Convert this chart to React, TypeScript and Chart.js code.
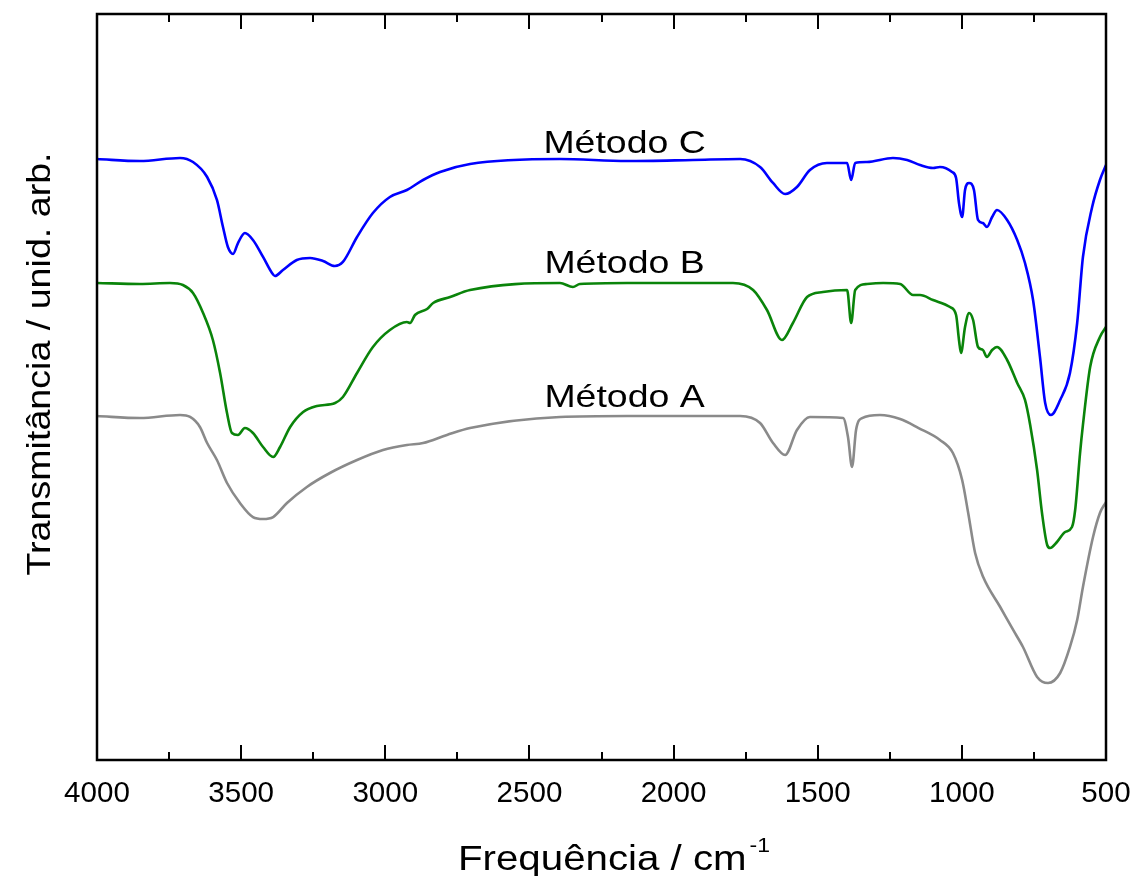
import React, { useEffect, useRef } from 'react';
import { Chart, registerables } from 'chart.js';

Chart.register(...registerables);

// ---------- data (wavenumber in cm-1, transmittance in arbitrary units) ----------
const wavenumbersC = [
  4000, 3851, 3712, 3667, 3618, 3584, 3563, 3546, 3528, 3511, 3487, 3459, 3424, 3393, 3383, 3355,
  3307, 3261, 3216, 3175, 3147, 3098, 3043, 2984, 2925, 2869, 2810, 2706, 2394, 2161, 1933, 1769,
  1700, 1655, 1613, 1572, 1527, 1468, 1398, 1384, 1370, 1329, 1239, 1190, 1145, 1100, 1076, 1034,
  1020, 1010, 999, 989, 975, 958, 944, 927, 913, 895, 878, 843, 808, 781, 753, 729, 711, 691, 659,
  625, 600, 580, 548, 521, 500,
];
const transmittanceC = [
  80.56, 80.29, 80.7, 80.16, 78.15, 75.07, 71.45, 68.77, 67.83, 69.3, 70.64, 69.71, 67.43, 65.28, 64.88, 65.68,
  67.02, 67.29, 66.89, 66.22, 66.76, 70.11, 73.32, 75.47, 76.41, 77.75, 78.82, 79.89, 80.56, 80.29, 80.43, 80.56,
  79.49, 77.35, 75.87, 76.81, 79.09, 80.03, 80.03, 77.75, 80.03, 80.16, 80.7, 80.43, 79.76, 79.36, 79.49, 78.82,
  78.02, 74.66, 72.79, 76.41, 77.35, 76.41, 72.39, 71.98, 71.45, 72.79, 73.73, 72.39, 69.71, 66.62, 61.66, 54.02, 47.86, 46.25, 48.26,
  51.88, 58.58, 67.43, 74.13, 77.75, 79.76,
];

const wavenumbersB = [
  4000, 3851, 3747, 3702, 3667, 3632, 3598, 3573, 3549, 3532, 3511, 3487, 3459, 3424, 3389, 3365,
  3330, 3285, 3237, 3174, 3147, 3098, 3043, 2984, 2925, 2914, 2897, 2855, 2834, 2775, 2706, 2394,
  2349, 2325, 2161, 1933, 1794, 1724, 1676, 1624, 1586, 1537, 1482, 1398, 1384, 1370, 1329, 1273,
  1214, 1169, 1145, 1100, 1041, 1020, 1010, 1003, 989, 975, 961, 944, 927, 913, 895, 878, 843, 808,
  781, 763, 739, 722, 704, 694, 670, 642, 618, 607, 590, 580, 555, 521, 500,
];
const transmittanceB = [
  63.94, 63.81, 63.94, 63.67, 62.6, 59.92, 56.3, 51.88, 46.51, 43.83, 43.57, 44.5, 43.83, 41.96, 40.62, 41.96,
  44.64, 46.65, 47.45, 47.86, 48.66, 51.88, 55.36, 57.64, 58.71, 58.58, 59.65, 60.46, 61.26, 62.06, 63.0, 63.94,
  63.4, 63.81, 63.94, 63.94, 63.94, 63.0, 60.32, 56.3, 58.58, 62.06, 62.73, 63.0, 58.58, 63.0, 63.81, 63.94,
  63.81, 62.33, 62.33, 61.66, 60.72, 59.65, 56.3, 54.56, 58.04, 59.92, 58.98, 55.36, 54.96, 54.02, 54.96, 55.36, 53.62, 50.54,
  48.26, 44.91, 38.87, 33.11, 28.82, 28.42, 29.22, 30.56, 31.23, 33.51, 41.15, 44.91, 52.68, 56.7, 58.04,
];

const wavenumbersA = [
  4000, 3851, 3712, 3677, 3643, 3618, 3584, 3549, 3504, 3459, 3424, 3389, 3341, 3272, 3192, 3098,
  3008, 2925, 2869, 2786, 2706, 2394, 2161, 1769, 1700, 1655, 1613, 1572, 1527, 1412, 1395, 1381,
  1367, 1346, 1284, 1214, 1150, 1076, 1031, 999, 978, 954, 926, 867, 822, 788, 739, 701, 659, 625,
  600, 580, 545, 521, 500,
];
const transmittanceA = [
  46.11, 45.84, 46.25, 45.98, 44.64, 42.49, 40.21, 37.13, 34.45, 32.57, 32.31, 32.57, 34.45, 36.6, 38.47, 40.21,
  41.55, 42.23, 42.49, 43.57, 44.5, 45.98, 46.11, 46.11, 45.17, 42.49, 40.88, 44.24, 45.98, 45.84, 43.3, 39.28,
  44.24, 45.84, 46.25, 45.71, 44.5, 42.9, 41.15, 37.53, 33.11, 27.75, 24.53, 20.51, 17.43, 15.15, 11.13, 10.32, 11.66, 15.15,
  18.77, 23.19, 29.89, 33.11, 34.58,
];

const seriesNames = ['Método C', 'Método B', 'Método A'];
const seriesColors = ['#0000ff', '#0a840a', '#8a8a8a'];
// label anchor (wavenumber, transmittance of text baseline)
const labelWavenumbers = [2170, 2170, 2170];
const labelTransmittance = [81.37, 65.28, 47.32];

const majorTicks = [4000, 3500, 3000, 2500, 2000, 1500, 1000, 500];
const tickLabels = ['4000', '3500', '3000', '2500', '2000', '1500', '1000', '500'];
const minorTicks = [3750, 3250, 2750, 2250, 1750, 1250, 750];

const xTitle = 'Frequência / cm';
const xTitleSup = '-1';
const yTitle = 'Transmitância / unid. arb.';

const FONT = '"Liberation Sans", Arial, Helvetica, sans-serif';

function toPoints(xs: number[], ys: number[]) {
  return xs.map((x, i) => ({ x, y: ys[i] }));
}

function stretchedText(
  ctx: CanvasRenderingContext2D,
  text: string,
  x: number,
  y: number,
  size: number,
  sx: number,
  align: CanvasTextAlign,
  rotate = 0,
) {
  ctx.save();
  ctx.translate(x, y);
  if (rotate) ctx.rotate(rotate);
  ctx.scale(sx, 1);
  ctx.font = `${size}px ${FONT}`;
  ctx.textAlign = align;
  ctx.textBaseline = 'alphabetic';
  ctx.fillStyle = '#000';
  ctx.fillText(text, 0, 0);
  ctx.restore();
}

const decorPlugin = {
  id: 'ftirDecor',
  afterDraw(chart: any) {
    const ctx: CanvasRenderingContext2D = chart.ctx;
    const { left, right, top, bottom } = chart.chartArea;
    const xs = chart.scales.x;
    const ys = chart.scales.y;
    ctx.save();
    // frame
    ctx.strokeStyle = '#000';
    ctx.lineWidth = 2.5;
    ctx.strokeRect(left, top, right - left, bottom - top);
    // ticks
    ctx.lineWidth = 2;
    ctx.beginPath();
    majorTicks.forEach((v) => {
      const px = Math.round(xs.getPixelForValue(v));
      ctx.moveTo(px, bottom);
      ctx.lineTo(px, bottom - 15);
      ctx.moveTo(px, top);
      ctx.lineTo(px, top + 15);
    });
    minorTicks.forEach((v) => {
      const px = Math.round(xs.getPixelForValue(v));
      ctx.moveTo(px, bottom);
      ctx.lineTo(px, bottom - 8);
      ctx.moveTo(px, top);
      ctx.lineTo(px, top + 8);
    });
    ctx.stroke();
    // tick labels
    majorTicks.forEach((v, i) => {
      const px = xs.getPixelForValue(v);
      stretchedText(ctx, tickLabels[i], px, bottom + 42, 29, 1.02, 'center');
    });
    // x title with superscript
    const sx = 1.15;
    ctx.font = `35px ${FONT}`;
    const mainW = ctx.measureText(xTitle).width * sx;
    ctx.font = `20px ${FONT}`;
    const supW = ctx.measureText(xTitleSup).width * sx;
    const totalW = mainW + supW + 3;
    const cx = 614;
    const startX = cx - totalW / 2;
    stretchedText(ctx, xTitle, startX, bottom + 110, 35, sx, 'left');
    stretchedText(ctx, xTitleSup, startX + mainW + 3, bottom + 92, 20, sx, 'left');
    // y title
    stretchedText(ctx, yTitle, 50, 364, 33, 1.14, 'center', -Math.PI / 2);
    // series labels
    seriesNames.forEach((name, i) => {
      const px = xs.getPixelForValue(labelWavenumbers[i]);
      const py = ys.getPixelForValue(labelTransmittance[i]);
      stretchedText(ctx, name, px, py, 32, 1.17, 'center');
    });
    ctx.restore();
  },
};

export default function App() {
  const canvasRef = useRef<HTMLCanvasElement | null>(null);

  useEffect(() => {
    const canvas = canvasRef.current;
    if (!canvas) return;
    const series = [
      toPoints(wavenumbersC, transmittanceC),
      toPoints(wavenumbersB, transmittanceB),
      toPoints(wavenumbersA, transmittanceA),
    ];
    const chart = new Chart(canvas, {
      type: 'line',
      data: {
        datasets: series.map((pts, i) => ({
          label: seriesNames[i],
          data: pts,
          borderColor: seriesColors[i],
          backgroundColor: seriesColors[i],
          borderWidth: 2.6,
          pointRadius: 0,
          fill: false,
          cubicInterpolationMode: 'monotone' as const,
        })),
      },
      options: {
        animation: false,
        responsive: false,
        devicePixelRatio: 1,
        layout: { padding: { left: 97, top: 14, right: 29, bottom: 116 } },
        plugins: {
          legend: { display: false },
          tooltip: { enabled: false },
        },
        scales: {
          x: { type: 'linear', reverse: true, min: 500, max: 4000, display: false },
          y: { type: 'linear', min: 0, max: 100, display: false },
        },
      },
      plugins: [decorPlugin],
    });
    return () => chart.destroy();
  }, []);

  return (
    <div style={{ position: 'absolute', left: 0, top: 0, width: 1135, height: 876, background: '#fff' }}>
      <canvas ref={canvasRef} width={1135} height={876} style={{ display: 'block' }} />
    </div>
  );
}
